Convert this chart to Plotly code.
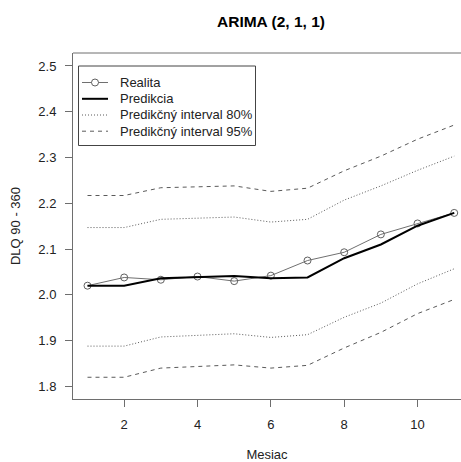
import plotly.graph_objects as go

# Months of the forecast horizon
mesiac = [1, 2, 3, 4, 5, 6, 7, 8, 9, 10, 11]

# Observed values and ARIMA(2,1,1) forecast
realita = [2.020, 2.038, 2.033, 2.040, 2.030, 2.042, 2.075, 2.093, 2.132, 2.156, 2.179]
predikcia = [2.020, 2.020, 2.036, 2.039, 2.041, 2.036, 2.038, 2.080, 2.110, 2.151, 2.179]

# Prediction intervals
pi80_dolny = [1.888, 1.888, 1.908, 1.911, 1.915, 1.907, 1.913, 1.951, 1.982, 2.024, 2.057]
pi80_horny = [2.147, 2.147, 2.165, 2.167, 2.170, 2.159, 2.165, 2.207, 2.238, 2.272, 2.303]
pi95_dolny = [1.820, 1.820, 1.840, 1.844, 1.847, 1.840, 1.846, 1.884, 1.918, 1.959, 1.990]
pi95_horny = [2.217, 2.217, 2.234, 2.236, 2.238, 2.226, 2.233, 2.271, 2.303, 2.340, 2.371]

x_ticks = [2, 4, 6, 8, 10]
y_ticks = [1.8, 1.9, 2.0, 2.1, 2.2, 2.3, 2.4, 2.5]

legend_labels = ["Realita", "Predikcia", "Predikčný interval 80%", "Predikčný interval 95%"]

FONT = "Liberation Sans, Arial, sans-serif"
TXT = "#222222"
AX = "#6e6e6e"
GRAY = "#5a5a5a"

W, H = 461, 462
ML, MR, MT, MB = 73, 0, 53, 63
PW, PH = W - ML - MR, H - MT - MB

# line styles shared by the series and the legend key
styles = [
    dict(color="#707070", width=1),
    dict(color="black", width=2),
    dict(color=GRAY, width=1, dash="1px,2px"),
    dict(color=GRAY, width=1, dash="4px,4px"),
]


def px(x):
    return (x - ML) / PW


def py(y):
    return (H - MB - y) / PH


fig = go.Figure()

fig.add_trace(go.Scatter(
    x=mesiac, y=realita, mode="lines+markers", showlegend=False,
    line=styles[0],
    marker=dict(symbol="circle-open", size=7, color="#606060", line=dict(width=1)),
))
fig.add_trace(go.Scatter(x=mesiac, y=predikcia, mode="lines", showlegend=False, line=styles[1]))
fig.add_trace(go.Scatter(x=mesiac, y=pi80_dolny, mode="lines", showlegend=False, line=styles[2]))
fig.add_trace(go.Scatter(x=mesiac, y=pi95_dolny, mode="lines", showlegend=False, line=styles[3]))
fig.add_trace(go.Scatter(x=mesiac, y=pi80_horny, mode="lines", showlegend=False, line=styles[2]))
fig.add_trace(go.Scatter(x=mesiac, y=pi95_horny, mode="lines", showlegend=False, line=styles[3]))

# hand-built legend box (R-style compact key)
shapes = [
    dict(type="line", xref="paper", yref="paper", x0=0, x1=1, y0=1, y1=1,
         line=dict(color=AX, width=1)),
    dict(type="rect", xref="paper", yref="paper", x0=px(78.5), x1=px(255.5),
         y0=py(145.5), y1=py(66), line=dict(color="#444444", width=1),
         fillcolor="white", layer="above"),
]
annotations = []
row_y = [82.5, 98.8, 115.0, 131.2]
for lab, st, ry in zip(legend_labels, styles, row_y):
    shapes.append(dict(type="line", xref="paper", yref="paper", x0=px(82), x1=px(108),
                       y0=py(ry), y1=py(ry), line=st, layer="above"))
    annotations.append(dict(text=lab, xref="paper", yref="paper", x=px(117.5), y=py(ry),
                            xanchor="left", yanchor="middle", showarrow=False,
                            font=dict(size=13, color=TXT)))
shapes.append(dict(type="circle", xref="paper", yref="paper",
                   xsizemode="pixel", ysizemode="pixel",
                   xanchor=px(95), yanchor=py(row_y[0]), x0=-3.5, x1=3.5, y0=-3.5, y1=3.5,
                   line=dict(color="#606060", width=1), fillcolor="white", layer="above"))

fig.update_layout(
    width=W, height=H,
    margin=dict(l=ML, r=MR, t=MT, b=MB),
    paper_bgcolor="white", plot_bgcolor="white",
    font=dict(family=FONT, size=13, color=TXT),
    title=dict(text="<b>ARIMA (2, 1, 1)</b>", x=(73 + 469) / 2 / W, xanchor="center",
               y=1 - 22 / H, yanchor="middle", font=dict(size=15.5, color="black")),
    showlegend=False,
    xaxis=dict(
        range=[0.6046, 11.185], tickvals=x_ticks, ticks="outside", ticklen=7,
        tickcolor=AX, showline=True, linecolor=AX, linewidth=1, showgrid=False,
        zeroline=False, ticklabelstandoff=6,
        title=dict(text="Mesiac", standoff=19, font=dict(size=13)),
    ),
    yaxis=dict(
        range=[1.7725, 2.5283], tickvals=y_ticks, tickformat=".1f", ticks="outside",
        ticklen=7, tickcolor=AX, showline=True, linecolor=AX, linewidth=1,
        showgrid=False, zeroline=False, ticklabelstandoff=6,
        title=dict(text="DLQ 90 - 360", standoff=14, font=dict(size=13)),
    ),
    shapes=shapes,
    annotations=annotations,
)

fig.write_html("out.html")
